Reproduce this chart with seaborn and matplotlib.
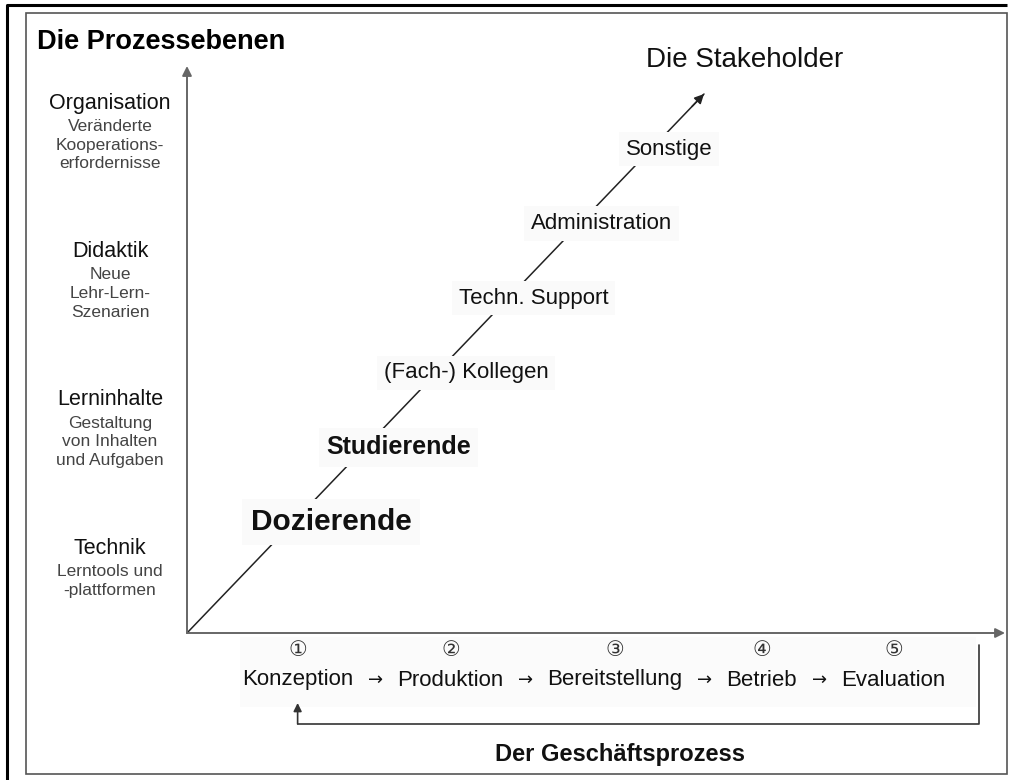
import matplotlib.pyplot as plt
import seaborn as sns
from matplotlib.patches import Rectangle

# Prozessebenen (von unten nach oben) mit Beschreibung
ebenen = ["Technik", "Lerninhalte", "Didaktik", "Organisation"]
ebenen_text = [
    ["Lerntools und", "-plattformen"],
    ["Gestaltung", "von Inhalten", "und Aufgaben"],
    ["Neue", "Lehr-Lern-", "Szenarien"],
    ["Veränderte", "Kooperations-", "erfordernisse"],
]

# Stakeholder entlang der Diagonale
stakeholder = ["Dozierende", "Studierende", "(Fach-) Kollegen",
               "Techn. Support", "Administration", "Sonstige"]
stakeholder_fett = [True, True, False, False, False, False]
stakeholder_groesse = [21.5, 18, 16, 16, 16, 16]

# Geschäftsprozess
schritte = ["Konzeption", "Produktion", "Bereitstellung", "Betrieb", "Evaluation"]
schritt_nummern = ["①", "②", "③", "④", "⑤"]

sns.set_theme(style="white")
plt.rcParams['font.family'] = ['Liberation Sans', 'DejaVu Sans']

fig = plt.figure(figsize=(10.09, 7.80), dpi=100)
ax = fig.add_axes([0, 0, 1, 1])
ax.set_xlim(0, 1009)
ax.set_ylim(780, 0)
ax.axis('off')

# Rahmen
ax.plot([7, 7, 1007], [780, 5, 5], color='black', lw=2.2, solid_capstyle='butt')
ax.add_patch(Rectangle((26, 13), 981, 761, fill=False, edgecolor='#555555', lw=1.2))

# Achsen
ox, oy = 187, 633
pfeil = dict(arrowstyle='-|>', color='#666666', lw=1.4, mutation_scale=14,
             shrinkA=0, shrinkB=0)
ax.annotate('', xy=(ox, 66), xytext=(ox, oy), arrowprops=pfeil)
ax.annotate('', xy=(1005, oy), xytext=(ox, oy), arrowprops=pfeil)

# Diagonale (Stakeholder-Achse)
tip_x, tip_y = 704, 94
sns.lineplot(x=[ox, tip_x], y=[oy, tip_y], color='#222222', linewidth=1.1, ax=ax,
             sort=False, zorder=1)
ax.annotate('', xy=(tip_x, tip_y), xytext=(tip_x - 12, tip_y + 12.5),
            arrowprops=dict(arrowstyle='-|>', color='#222222', lw=1.1,
                            mutation_scale=14, shrinkA=0, shrinkB=0))

ax.text(37, 42, "Die Prozessebenen", fontsize=19.5, fontweight='bold',
        ha='left', va='center', color='black')
ax.text(745, 60, "Die Stakeholder", fontsize=20, ha='center', va='center',
        color='#111111')

# Ebenen links
for i, (name, sub) in enumerate(zip(ebenen, ebenen_text)):
    y = 548 - i * 148.3
    ax.text(110, y, name, fontsize=15.5, ha='center', va='center', color='#111111')
    ax.text(110, y + 16, "\n".join(sub), fontsize=12.5, ha='center', va='top',
            color='#444444', linespacing=1.3)

# Stakeholder-Beschriftungen
for i, name in enumerate(stakeholder):
    x = 331 + i * 67.6
    y = 522 - i * 74.6
    ax.text(x, y, name, fontsize=stakeholder_groesse[i],
            fontweight='bold' if stakeholder_fett[i] else 'normal',
            ha='center', va='center', color='#111111', zorder=3,
            bbox=dict(boxstyle='square,pad=0.3', fc='#fafafa', ec='none'))

# Geschäftsprozess
ax.add_patch(Rectangle((240, 637), 736, 70, fc='#fbfbfb', ec='none', zorder=0))
renderer = fig.canvas.get_renderer()
x = 242
abstand = 44
mitten = []
for i, (schritt, nr) in enumerate(zip(schritte, schritt_nummern)):
    t = ax.text(x, 680, schritt, fontsize=16, ha='left', va='center', color='#111111')
    w = t.get_window_extent(renderer).width
    mitte = x + w / 2
    mitten.append(mitte)
    ax.text(mitte, 650, nr, fontsize=15, ha='center', va='center', color='#333333',
            family='DejaVu Sans')
    if i < len(schritte) - 1:
        ax.text(x + w + abstand / 2, 680, "→", fontsize=13, ha='center',
                va='center', color='#111111', family='DejaVu Sans')
    x += w + abstand

# Rückkopplung
ax.plot([979, 979, mitten[0]], [645, 724, 724], color='#333333', lw=1.2)
ax.annotate('', xy=(mitten[0], 703), xytext=(mitten[0], 724),
            arrowprops=dict(arrowstyle='-|>', color='#333333', lw=1.2,
                            mutation_scale=12, shrinkA=0, shrinkB=0))

ax.text(620, 755, "Der Geschäftsprozess", fontsize=17, fontweight='bold',
        ha='center', va='center', color='#111111')

fig.savefig('out.png', dpi=100)
